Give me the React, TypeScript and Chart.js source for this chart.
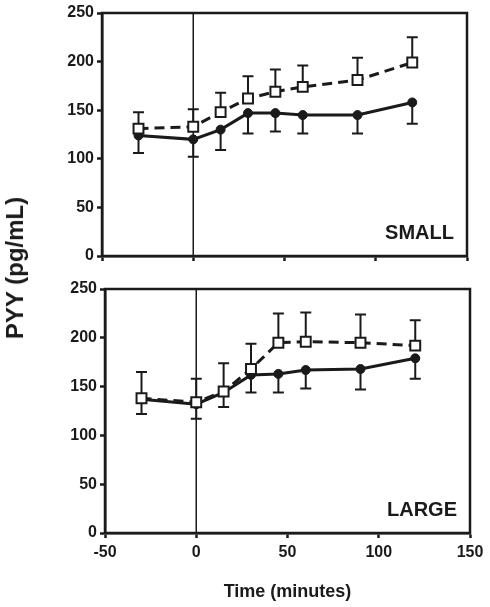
import React, { useEffect, useRef } from "react";
import { Chart, registerables } from "chart.js";

Chart.register(...registerables);

// ---- data ----
const times = [-30, 0, 15, 30, 45, 60, 90, 120];
const xTicks = [-50, 0, 50, 100, 150];
const yTicks = [0, 50, 100, 150, 200, 250];

const smallSolid = [124, 120, 130, 147, 147, 145, 145, 158];
const smallSolidErr = [18, 18, 21, 21, 19, 19, 19, 22];
const smallOpen = [131, 133, 148, 162, 169, 174, 181, 199];
const smallOpenErr = [17, 18, 20, 23, 23, 22, 23, 26];

const largeSolid = [137, 132, 144, 162, 163, 167, 168, 179];
const largeSolidErr = [15, 15, 15, 18, 19, 19, 21, 21];
const largeOpen = [138, 134, 145, 168, 195, 196, 195, 192];
const largeOpenErr = [27, 24, 29, 26, 30, 30, 29, 26];

const panelLabels = ["SMALL", "LARGE"];
const xTitle = "Time (minutes)";
const yTitle = "PYY (pg/mL)";

const FONT = '"Liberation Sans", Arial, Helvetica, sans-serif';
const INK = "#1a1a1a";

type PanelSpec = {
  label: string;
  solid: number[];
  solidErr: number[];
  open: number[];
  openErr: number[];
  showXLabels: boolean;
  top: number;
  height: number;
  yWidth: number;
  padTop: number;
  padRight: number;
  xHeight: number;
};

function makePlugin(spec: PanelSpec) {
  return {
    id: "panelDecor",
    beforeDatasetsDraw(chart: any) {
      const { ctx, chartArea: a, scales } = chart;
      const xs = scales.x;
      const ys = scales.y;
      ctx.save();
      ctx.strokeStyle = INK;
      ctx.lineWidth = 1.5;
      const x0 = xs.getPixelForValue(0);
      ctx.beginPath();
      ctx.moveTo(x0, a.top);
      ctx.lineTo(x0, a.bottom);
      ctx.stroke();
      ctx.lineWidth = 2;
      const drawErr = (vals: number[], errs: number[], dir: number) => {
        times.forEach((t, i) => {
          const px = xs.getPixelForValue(t);
          const p0 = ys.getPixelForValue(vals[i]);
          const p1 = ys.getPixelForValue(vals[i] + dir * errs[i]);
          ctx.beginPath();
          ctx.moveTo(px, p0);
          ctx.lineTo(px, p1);
          ctx.moveTo(px - 5.5, p1);
          ctx.lineTo(px + 5.5, p1);
          ctx.stroke();
        });
      };
      drawErr(spec.solid, spec.solidErr, -1);
      drawErr(spec.open, spec.openErr, 1);
      ctx.restore();
    },
    afterDraw(chart: any) {
      const { ctx, chartArea: a } = chart;
      ctx.save();
      ctx.strokeStyle = INK;
      ctx.lineWidth = 2.5;
      ctx.strokeRect(a.left, a.top, a.right - a.left, a.bottom - a.top);
      ctx.fillStyle = INK;
      ctx.font = `bold 20px ${FONT}`;
      ctx.textAlign = "right";
      ctx.textBaseline = "alphabetic";
      ctx.fillText(spec.label, a.right - 13, a.bottom - 17);
      ctx.restore();
    },
  };
}

function Panel({ spec }: { spec: PanelSpec }) {
  const ref = useRef<HTMLCanvasElement>(null);
  useEffect(() => {
    if (!ref.current) return;
    const toXY = (vals: number[]) => times.map((t, i) => ({ x: t, y: vals[i] }));
    const chart = new Chart(ref.current, {
      type: "line",
      data: {
        datasets: [
          {
            label: "open",
            data: toXY(spec.open),
            borderColor: INK,
            borderWidth: 3,
            borderDash: [10, 6],
            pointStyle: "rect",
            pointRadius: 7,
            pointBorderWidth: 2,
            pointBackgroundColor: "#ffffff",
            pointBorderColor: INK,
            tension: 0,
          },
          {
            label: "solid",
            data: toXY(spec.solid),
            borderColor: INK,
            borderWidth: 3,
            pointStyle: "circle",
            pointRadius: 4.5,
            pointBorderWidth: 1,
            pointBackgroundColor: INK,
            pointBorderColor: INK,
            tension: 0,
          },
        ],
      },
      options: {
        animation: false,
        responsive: false,
        events: [],
        layout: { padding: { left: 0, top: spec.padTop, right: spec.padRight, bottom: 0 } },
        plugins: {
          legend: { display: false },
          tooltip: { enabled: false },
        },
        scales: {
          x: {
            type: "linear",
            min: -50,
            max: 150,
            afterBuildTicks: (scale: any) => {
              scale.ticks = xTicks.map((v) => ({ value: v }));
            },
            afterFit: (scale: any) => {
              scale.height = spec.xHeight;
            },
            border: { display: true, color: INK, width: 2.5 },
            grid: {
              display: true,
              drawOnChartArea: false,
              drawTicks: true,
              tickLength: 5,
              tickWidth: 2.5,
              tickColor: INK,
              color: INK,
            },
            ticks: {
              display: true,
              autoSkip: false,
              maxRotation: 0,
              padding: 5,
              color: INK,
              font: { family: FONT, size: 16, weight: "bold" },
              callback: (v: any) => (spec.showXLabels ? String(v) : ""),
            },
            title: {
              display: spec.showXLabels,
              text: xTitle,
              color: INK,
              font: { family: FONT, size: 18, weight: "bold" },
              padding: { top: 0, bottom: 4 },
            },
          },
          y: {
            type: "linear",
            min: 0,
            max: 250,
            afterBuildTicks: (scale: any) => {
              scale.ticks = yTicks.map((v) => ({ value: v }));
            },
            afterFit: (scale: any) => {
              scale.width = spec.yWidth;
            },
            border: { display: true, color: INK, width: 2.5 },
            grid: {
              display: true,
              drawOnChartArea: false,
              drawTicks: true,
              tickLength: 5,
              tickWidth: 2.5,
              tickColor: INK,
              color: INK,
            },
            ticks: {
              autoSkip: false,
              padding: 3,
              color: INK,
              font: { family: FONT, size: 16, weight: "bold" },
            },
          },
        },
      } as any,
      plugins: [makePlugin(spec)],
    });
    return () => chart.destroy();
  }, []);
  return (
    <canvas
      ref={ref}
      width={490}
      height={spec.height}
      style={{ position: "absolute", left: 0, top: spec.top, width: 490, height: spec.height, display: "block" }}
    />
  );
}

const panels: PanelSpec[] = [
  {
    label: panelLabels[0],
    solid: smallSolid,
    solidErr: smallSolidErr,
    open: smallOpen,
    openErr: smallOpenErr,
    showXLabels: false,
    top: 0,
    height: 276,
    yWidth: 102,
    padTop: 13,
    padRight: 23,
    xHeight: 20,
  },
  {
    label: panelLabels[1],
    solid: largeSolid,
    solidErr: largeSolidErr,
    open: largeOpen,
    openErr: largeOpenErr,
    showXLabels: true,
    top: 276,
    height: 331,
    yWidth: 105,
    padTop: 13,
    padRight: 20,
    xHeight: 74,
  },
];

export default function App() {
  return (
    <div style={{ position: "absolute", left: 0, top: 0, width: 490, height: 607, background: "#fff", overflow: "hidden" }}>
      {panels.map((p) => (
        <Panel key={p.label} spec={p} />
      ))}
      <div
        style={{
          position: "absolute",
          left: 15,
          top: 268,
          transform: "translate(-50%, -50%) rotate(-90deg)",
          whiteSpace: "nowrap",
          fontFamily: FONT,
          fontWeight: "bold",
          fontSize: 24,
          lineHeight: "24px",
          color: INK,
        }}
      >
        {yTitle}
      </div>
    </div>
  );
}
